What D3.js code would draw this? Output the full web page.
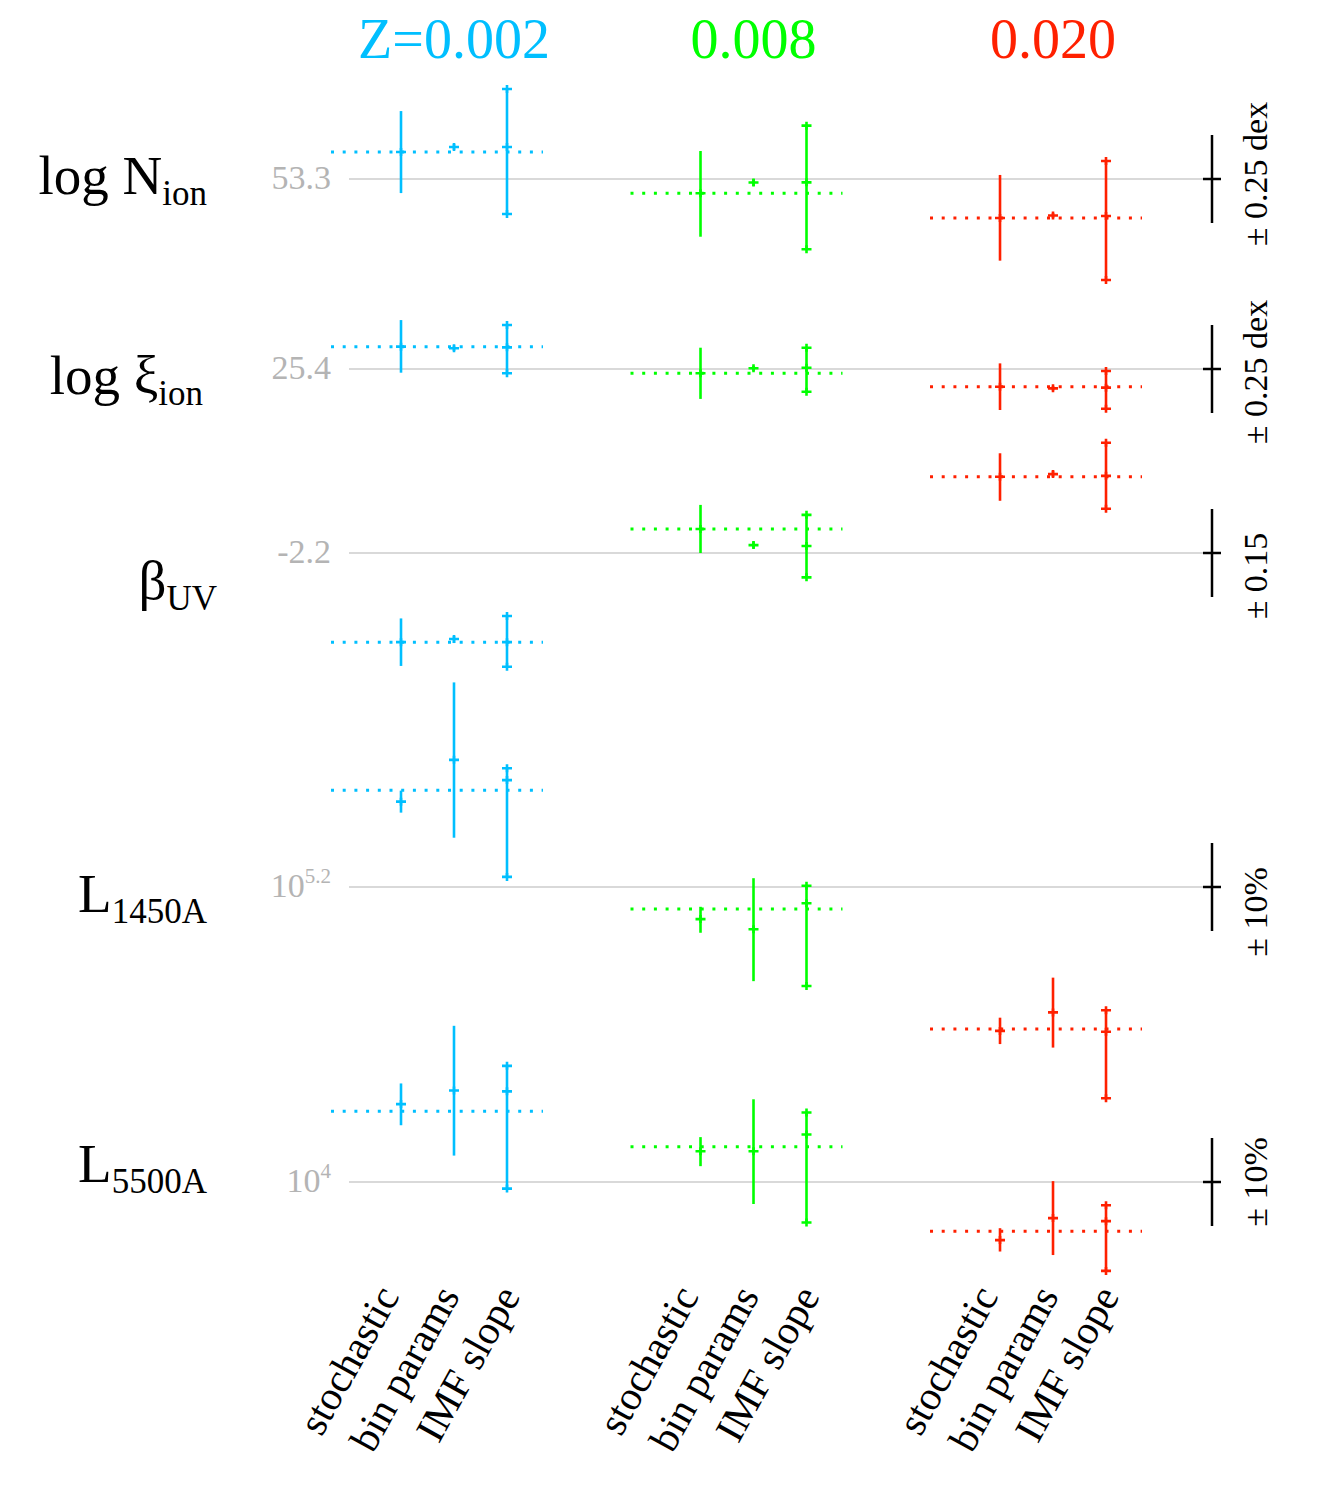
<!DOCTYPE html>
<html><head><meta charset="utf-8">
<script src="https://cdn.jsdelivr.net/npm/d3@7"></script>
<style>body{margin:0;background:#fff}svg{display:block}text{font-family:"Liberation Serif","Times New Roman",serif}</style>
</head><body>
<script>
// ---------- data ----------
const groups = ["Z=0.002", "0.008", "0.020"];
const groupColors = ["#00bfff", "#00ff00", "#ff2000"];
const methods = ["stochastic", "bin params", "IMF slope"];
const rowNames = ["logN", "logXi", "beta", "L1450", "L5500"];
const refValues = [53.3, 25.4, -2.2, 0, 0];          // reference level per row (L rows in % offset)
const refLabelMain = ["53.3", "25.4", "-2.2", "10", "10"];
const refLabelSup = ["", "", "", "5.2", "4"];
const scaleHalf = [0.25, 0.25, 0.15, 10, 10];
const scaleLabels = ["\u00b1 0.25 dex", "\u00b1 0.25 dex", "\u00b1 0.15", "\u00b1 10%", "\u00b1 10%"];

// mean (dotted) per group, and [lo, median, hi] per group for each method
const logN_mean = [53.453, 53.219, 53.078];
const logN_stoch = [[53.220, 53.453, 53.686], [52.972, 53.219, 53.459], [52.836, 53.078, 53.323]];
const logN_bin = [[53.465, 53.482, 53.499], [53.260, 53.280, 53.300], [53.078, 53.093, 53.107]];
const logN_imf = [[53.101, 53.482, 53.811], [52.901, 53.281, 53.603], [52.726, 53.090, 53.402]];

const logXi_mean = [25.527, 25.376, 25.299];
const logXi_stoch = [[25.379, 25.527, 25.678], [25.230, 25.376, 25.521], [25.167, 25.299, 25.432]];
const logXi_bin = [[25.502, 25.518, 25.534], [25.389, 25.404, 25.417], [25.278, 25.290, 25.303]];
const logXi_imf = [[25.376, 25.523, 25.650], [25.271, 25.407, 25.521], [25.174, 25.294, 25.389]];

const beta_mean = [-2.504, -2.118, -1.940];
const beta_stoch = [[-2.585, -2.504, -2.423], [-2.200, -2.118, -2.036], [-2.022, -1.940, -1.860]];
const beta_bin = [[-2.507, -2.493, -2.483], [-2.185, -2.173, -2.161], [-1.941, -1.931, -1.920]];
const beta_imf = [[-2.588, -2.504, -2.415], [-2.283, -2.176, -2.070], [-2.049, -1.937, -1.824]];

const L1450_mean = [22.0, -5.0, -32.3];
const L1450_stoch = [[16.9, 19.4, 21.9], [-10.4, -7.3, -4.5], [-35.7, -32.7, -29.7]];
const L1450_bin = [[11.2, 28.9, 46.5], [-21.4, -9.6, 2.0], [-36.5, -28.5, -20.6]];
const L1450_imf = [[2.3, 24.3, 27.0], [-22.5, -3.7, 0.3], [-48.0, -32.9, -28.0]];

const L5500_mean = [16.1, 8.0, -11.2];
const L5500_stoch = [[12.9, 17.7, 22.4], [3.6, 7.0, 10.2], [-15.8, -13.2, -10.5]];
const L5500_bin = [[6.0, 20.8, 35.5], [-5.0, 7.0, 18.8], [-16.6, -8.2, 0.2]];
const L5500_imf = [[-1.5, 20.6, 26.4], [-9.2, 10.8, 15.8], [-20.2, -8.9, -5.3]];

const rowMeans = [logN_mean, logXi_mean, beta_mean, L1450_mean, L5500_mean];
const rowBars = [
  [logN_stoch, logN_bin, logN_imf],
  [logXi_stoch, logXi_bin, logXi_imf],
  [beta_stoch, beta_bin, beta_imf],
  [L1450_stoch, L1450_bin, L1450_imf],
  [L5500_stoch, L5500_bin, L5500_imf]
];

// ---------- layout ----------
const W = 1329, H = 1496;
const rowY = [179, 369, 553, 887, 1182];
const halfPx = 44;
const refLineX0 = 349, scaleBarX = 1212;
const rowLabelLayout = [
  {main: "log N", sub: "ion", x: 207, y: 194},
  {main: "log \u03be", sub: "ion", x: 203, y: 394},
  {main: "\u03b2", sub: "UV", x: 217, y: 599},
  {main: "L", sub: "1450A", x: 207, y: 912},
  {main: "L", sub: "5500A", x: 207, y: 1182}
];
const scaleLabelCenter = [174, 372, 576, 912, 1182];

const svg = d3.select("body").append("svg").attr("width", W).attr("height", H);

const xGroup = d3.scaleBand().domain(groups).range([331, 1142]).paddingInner(0.2922).paddingOuter(0);
const xMethod = d3.scalePoint().domain(methods).range([70, 176]);
const xMethodLabel = d3.scalePoint().domain(methods).range([69, 190]);
const yScales = rowNames.map((r, i) =>
  d3.scaleLinear().domain([refValues[i] - scaleHalf[i], refValues[i] + scaleHalf[i]])
    .range([rowY[i] + halfPx, rowY[i] - halfPx]));

// titles
svg.selectAll("text.title").data(groups).join("text")
  .attr("class", "title")
  .attr("x", g => xGroup(g) + xMethod("bin params"))
  .attr("y", 58)
  .attr("text-anchor", "middle")
  .attr("font-size", 56)
  .attr("fill", (g, i) => groupColors[i])
  .text(g => g);

rowNames.forEach((r, i) => {
  const y = yScales[i];
  const gRow = svg.append("g");
  // reference line
  gRow.append("line").attr("x1", refLineX0).attr("x2", scaleBarX)
    .attr("y1", y(refValues[i])).attr("y2", y(refValues[i]))
    .attr("stroke", "#cccccc").attr("stroke-width", 1.5);
  // ref label
  const t = gRow.append("text").attr("x", 331).attr("y", y(refValues[i]) + 10)
    .attr("text-anchor", "end").attr("font-size", 34).attr("fill", "#b4b4b4");
  t.append("tspan").text(refLabelMain[i]);
  if (refLabelSup[i]) t.append("tspan").attr("font-size", 21).attr("dy", -14).text(refLabelSup[i]);

  // row label
  const L = rowLabelLayout[i];
  const rl = gRow.append("text").attr("x", L.x).attr("y", L.y).attr("text-anchor", "end")
    .attr("font-size", 55).attr("fill", "#000");
  rl.append("tspan").text(L.main);
  rl.append("tspan").attr("font-size", 35).attr("dy", 11).text(L.sub);

  // scale bar
  gRow.append("line").attr("x1", scaleBarX).attr("x2", scaleBarX)
    .attr("y1", y(refValues[i] - scaleHalf[i])).attr("y2", y(refValues[i] + scaleHalf[i]))
    .attr("stroke", "#000").attr("stroke-width", 2.5);
  gRow.append("line").attr("x1", scaleBarX - 9).attr("x2", scaleBarX + 9)
    .attr("y1", y(refValues[i])).attr("y2", y(refValues[i]))
    .attr("stroke", "#000").attr("stroke-width", 2.5);
  gRow.append("text")
    .attr("transform", `translate(1267,${scaleLabelCenter[i]}) rotate(-90)`)
    .attr("text-anchor", "middle").attr("font-size", 34).attr("fill", "#000")
    .text(scaleLabels[i]);

  // groups
  groups.forEach((g, gi) => {
    const col = groupColors[gi];
    const x0 = xGroup(g);
    gRow.append("line").attr("x1", x0).attr("x2", x0 + xGroup.bandwidth())
      .attr("y1", y(rowMeans[i][gi])).attr("y2", y(rowMeans[i][gi]))
      .attr("stroke", col).attr("stroke-width", 3).attr("stroke-dasharray", "3 8.7");
    methods.forEach((m, mi) => {
      const [lo, med, hi] = rowBars[i][mi][gi];
      const x = x0 + xMethod(m);
      gRow.append("line").attr("x1", x).attr("x2", x).attr("y1", y(lo)).attr("y2", y(hi))
        .attr("stroke", col).attr("stroke-width", 2.6);
      const marks = mi === 2 ? [lo, med, hi] : [med];
      marks.forEach(v => {
        gRow.append("path")
          .attr("d", `M${x - 5},${y(v)}H${x + 5}M${x},${y(v) - 4}V${y(v) + 4}`)
          .attr("stroke", col).attr("stroke-width", 2.6).attr("fill", "none");
      });
    });
  });
});

// bottom method labels
groups.forEach((g, gi) => {
  methods.forEach(m => {
    const x = xGroup(g) + xMethodLabel(m);
    svg.append("text")
      .attr("transform", `translate(${x},1296) rotate(-61)`)
      .attr("text-anchor", "end").attr("font-size", 41).attr("fill", "#000")
      .text(m);
  });
});
</script>
</body></html>
